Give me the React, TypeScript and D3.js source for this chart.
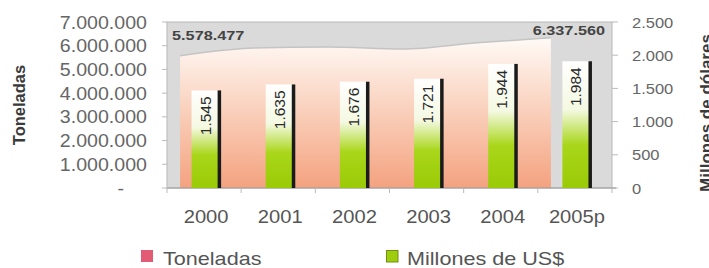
import React from "react";
import * as d3 from "d3";

const years = ["2000", "2001", "2002", "2003", "2004", "2005p"];
const toneladas = [5578477, 5900000, 5950000, 5860000, 6120000, 6337560];
const millones = [1545, 1635, 1676, 1721, 1944, 1984];
const leftTicks = [0, 1000000, 2000000, 3000000, 4000000, 5000000, 6000000, 7000000];
const rightTicks = [0, 500, 1000, 1500, 2000, 2500];

const W = 709;
const H = 268;
const margin = { top: 22, right: 97, bottom: 80, left: 167 };
const areaShift = -24; // area sits behind the bars, drawn offset in depth
const barDepth = 5;
const font = "'Liberation Sans', Arial, sans-serif";

const es = d3.formatLocale({ decimal: ",", thousands: ".", grouping: [3], currency: ["", ""] });
const fmt = es.format(",");

function SText({ x, y, sx = 1.12, size, anchor = "start", fill = "#555", weight = "normal", children }: any) {
  return (
    <text
      transform={`translate(${x},${y}) scale(${sx},1)`}
      fontSize={size}
      textAnchor={anchor}
      fill={fill}
      fontWeight={weight}
      fontFamily={font}
    >
      {children}
    </text>
  );
}

export default function App() {
  const x0 = margin.left;
  const x1 = W - margin.right;
  const y0 = H - margin.bottom;
  const y1 = margin.top;

  const x = d3.scaleBand().domain(years).range([x0, x1]);
  const yL = d3.scaleLinear().domain([0, 7000000]).range([y0, y1]);
  const yR = d3.scaleLinear().domain([0, 2500]).range([y0, y1]);
  const bw = x.bandwidth();
  const barW = bw * 0.365;
  const cx = (d: string) => (x(d) as number) + bw / 2;

  const area = d3
    .area<number>()
    .x((_, i) => cx(years[i]) + areaShift)
    .y0(y0)
    .y1((d) => yL(d))
    .curve(d3.curveMonotoneX);
  const topLine = d3
    .line<number>()
    .x((_, i) => cx(years[i]) + areaShift)
    .y((d) => yL(d))
    .curve(d3.curveMonotoneX);

  const boundaries = years.map((d) => x(d) as number).concat([x1]);

  return (
    <svg
      width={W}
      height={H}
      style={{ position: "fixed", left: 0, top: 0, background: "#fff" }}
    >
      <defs>
        <linearGradient id="areaGrad" x1="0" y1="0" x2="0" y2="1">
          <stop offset="0%" stopColor="#fffaf6" />
          <stop offset="45%" stopColor="#fad3c0" />
          <stop offset="100%" stopColor="#f4a27f" />
        </linearGradient>
        <linearGradient id="barGrad" x1="0" y1="0" x2="0" y2="1">
          <stop offset="0%" stopColor="#ffffff" />
          <stop offset="38%" stopColor="#f4f9e2" />
          <stop offset="66%" stopColor="#a9d61a" />
          <stop offset="100%" stopColor="#9acb06" />
        </linearGradient>
      </defs>

      {/* plot background */}
      <rect x={x0} y={y1} width={x1 - x0} height={y0 - y1} fill="#dadada" stroke="#b8b8b8" />

      {/* Toneladas area */}
      <path d={area(toneladas) as string} fill="url(#areaGrad)" />
      <path d={topLine(toneladas) as string} fill="none" stroke="#c4c4c4" strokeWidth={1.5} />

      {/* left axis */}
      {leftTicks.map((t) => (
        <g key={t}>
          <line x1={x0 - 5} x2={x0} y1={yL(t)} y2={yL(t)} stroke="#bbb" />
          <SText x={t === 0 ? 124 : 147} y={yL(t) + 6.5} size={17.5} anchor="end" fill="#666">
            {t === 0 ? "-" : fmt(t)}
          </SText>
        </g>
      ))}

      {/* right axis */}
      {rightTicks.map((t) => (
        <g key={t}>
          <line x1={x1} x2={x1 + 6} y1={yR(t)} y2={yR(t)} stroke="#bbb" />
          <SText x={632} y={yR(t) + 5.5} size={15} sx={1.1} fill="#666">
            {fmt(t)}
          </SText>
        </g>
      ))}

      {/* bottom axis */}
      <line x1={x0} x2={x1 + 4} y1={y0} y2={y0} stroke="#9a9a9a" />
      {boundaries.map((b, i) => (
        <line key={i} x1={b} x2={b} y1={y0} y2={y0 + 5} stroke="#bbb" />
      ))}
      {years.map((d) => (
        <SText key={d} x={cx(d) + 2} y={223} size={18} anchor="middle" fill="#555">
          {d}
        </SText>
      ))}

      {/* bars */}
      {millones.map((v, i) => {
        const c = cx(years[i]);
        const top = yR(v) + barDepth;
        const left = c - barW / 2 + 1;
        return (
          <g key={years[i]}>
            <rect x={left} y={top} width={barW} height={y0 - top} fill="url(#barGrad)" />
            <rect x={left + barW - 1} y={top} width={3.5} height={y0 - top} fill="#1b1b1b" />
            <text
              transform={`translate(${left + barW / 2 + 5.5},${top + 6}) rotate(-90)`}
              textAnchor="end"
              fontSize={15.5}
              fontFamily={font}
              fill="#2a2a2a"
            >
              {fmt(v)}
            </text>
          </g>
        );
      })}

      {/* value labels of the area */}
      <SText x={cx(years[0]) + areaShift - 8} y={40} size={12.5} sx={1.3} weight="bold" fill="#444">
        {fmt(toneladas[0])}
      </SText>
      <SText x={x1 - 7} y={35} size={12.5} sx={1.3} anchor="end" weight="bold" fill="#444">
        {fmt(toneladas[toneladas.length - 1])}
      </SText>

      {/* axis titles */}
      <text
        transform={`translate(25,105) rotate(-90)`}
        textAnchor="middle"
        fontSize={16.5}
        fontWeight="bold"
        fontFamily={font}
        fill="#3a3a3a"
      >
        Toneladas
      </text>
      <text
        transform={`translate(712,113) rotate(-90)`}
        textAnchor="middle"
        fontSize={17}
        fontWeight="bold"
        fontFamily={font}
        fill="#3a3a3a"
      >
        Millones de dólares
      </text>

      {/* legend */}
      <rect x={141} y={250} width={12} height={12} fill="#e35a74" />
      <SText x={163} y={265} size={18} sx={1.2} fill="#555">
        Toneladas
      </SText>
      <rect x={386.5} y={250.5} width={11.5} height={11.5} fill="#9dcd0c" stroke="#708f10" />
      <SText x={407} y={265} size={18} sx={1.2} fill="#555">
        Millones de US$
      </SText>
    </svg>
  );
}
